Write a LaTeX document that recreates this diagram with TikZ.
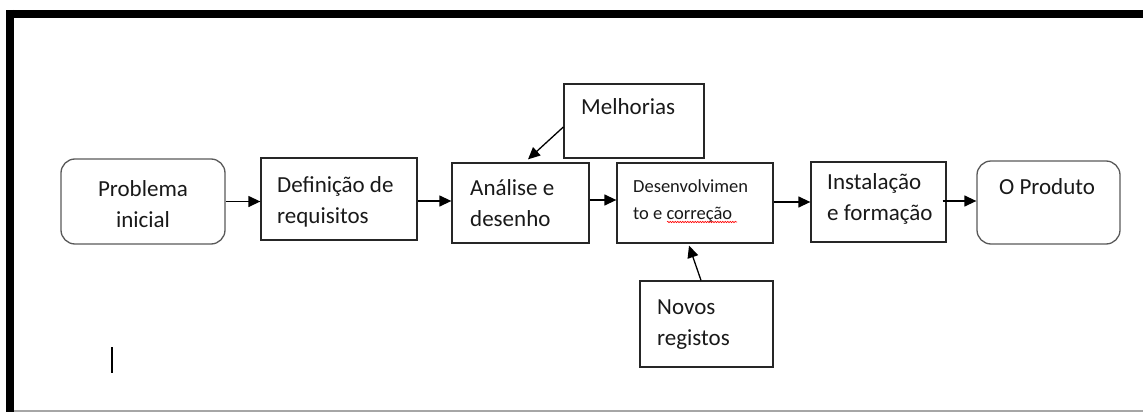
\documentclass[tikz,border=0pt]{standalone}
\usepackage{fontspec}
\setmainfont{Carlito}
\usetikzlibrary{arrows.meta,decorations.pathmorphing,calc}
\begin{document}
\begin{tikzpicture}[x=1pt,y=-1pt,
  box/.style={draw=black!85, line width=1.3pt, inner sep=0pt},
  rbox/.style={draw=black!65, line width=1.3pt, rounded corners=14pt, inner sep=0pt},
  txt/.style={inner sep=0pt, align=left, font=\fontsize{23}{31}\selectfont, text=black!90},
  stxt/.style={inner sep=0pt, align=left, font=\fontsize{18.5}{27}\selectfont, text=black!90},
  arr/.style={line width=1.3pt, -{Triangle[length=12pt,width=11pt]}}
]
\useasboundingbox (0,0) rectangle (1143,412);
% frame
\draw[line width=8pt] (6,14) -- (1143,14);
\draw[line width=8pt] (10,10) -- (10,412);
\draw[black!35, line width=1.5pt] (14,411) -- (1143,411);
% boxes
\node[rbox, minimum width=164pt, minimum height=85pt] (prob) at (143,201.5) {};
\node[box, minimum width=156pt, minimum height=82pt] (def) at (339,199) {};
\node[box, minimum width=137pt, minimum height=80pt] (ana) at (520.5,203) {};
\node[box, minimum width=140pt, minimum height=74pt] (mel) at (634,121) {};
\node[box, minimum width=156pt, minimum height=80pt] (dev) at (695,203) {};
\node[box, minimum width=133pt, minimum height=86pt] (nov) at (706.5,324) {};
\node[box, minimum width=135pt, minimum height=80pt] (inst) at (878.5,202) {};
\node[rbox, minimum width=143pt, minimum height=83pt] (prod) at (1048.5,202.5) {};
% texts (base = baseline of last line)
\node[txt, align=center, anchor=base] (tprob) at (143,227) {Problema\\inicial};
\node[txt, anchor=base west] (tdef) at (277,223) {Definição de\\requisitos};
\node[txt, anchor=base west] (tmel) at (581,114) {Melhorias};
\node[txt, anchor=base west] (tana) at (470,226) {Análise e\\desenho};
\node[stxt, anchor=base west] (tdev) at (633,219) {Desenvolvimen\\to e correção};
\node[txt, anchor=base west] (tnov) at (657,345) {Novos\\registos};
\node[txt, anchor=base west] (tinst) at (827,220) {Instalação\\e formação};
\node[txt, anchor=base] (tprod) at (1047,194) {O Produto};
% spell-check underline
\draw[red, line width=0.6pt, decorate, decoration={snake, amplitude=0.7pt, segment length=2.5pt}] (667,222) -- (737,222);
% arrows
\draw[arr] (prob.east) -- (prob.east -| def.west);
\draw[arr] ([yshift=-2pt]def.east) -- ([yshift=-2pt]def.east -| ana.west);
\draw[arr] ([yshift=3pt]ana.east) -- ([yshift=3pt]ana.east -| dev.west);
\draw[arr] ([yshift=1pt]dev.east) -- ([yshift=1pt]dev.east -| inst.west);
\draw[arr] ([xshift=-4pt,yshift=1pt]inst.east) -- ([yshift=1pt]inst.east -| prod.west);
\draw[arr] ([yshift=-6pt]mel.west) -- ([xshift=7.5pt,yshift=3pt]ana.north);
\draw[arr] ([xshift=-5.5pt]nov.north) -- ([xshift=-6pt,yshift=-2pt]dev.south);
% text cursor
\draw[line width=2pt] (112,347) -- (112,373);
\end{tikzpicture}
\end{document}
